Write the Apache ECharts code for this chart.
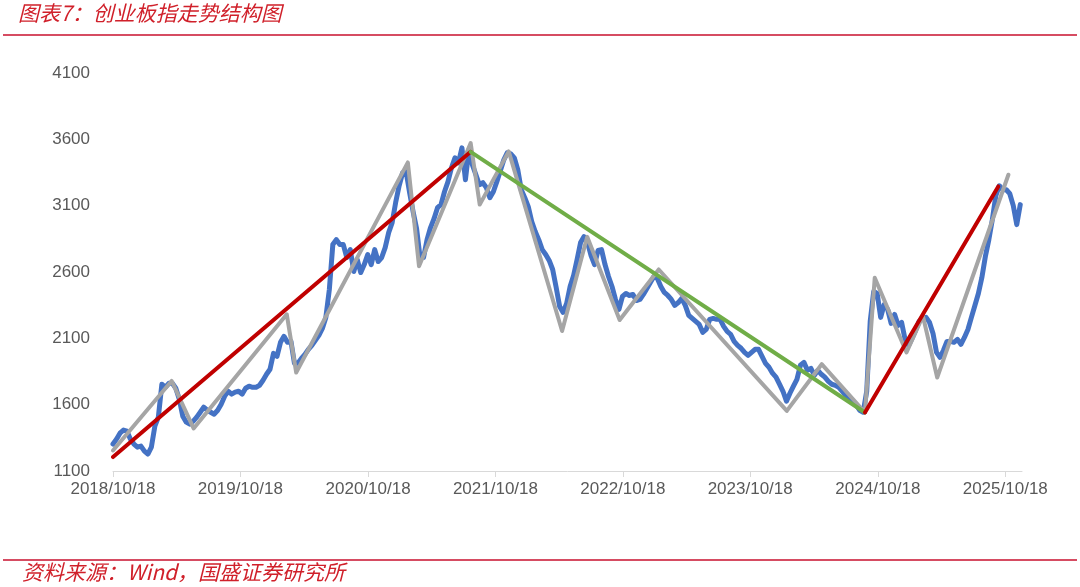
<!DOCTYPE html>
<html>
<head>
<meta charset="utf-8">
<script src="https://cdn.jsdelivr.net/npm/echarts@6/dist/echarts.min.js"></script>
<style>
html,body{margin:0;padding:0;background:#fff;}
#chart{width:1080px;height:587px;}
</style>
</head>
<body>
<div id="chart"></div>
<script>
// ---- Data ----
const TITLE = '图表7：创业板指走势结构图';
const SOURCE = '资料来源：Wind，国盛证券研究所';

// x-axis tick labels (dates)
const xTickDates = ['2018-10-18','2019-10-18','2020-10-18','2021-10-18','2022-10-18','2023-10-18','2024-10-18','2025-10-18'];
const yTickValues = [1100,1600,2100,2600,3100,3600,4100];
const xStart = '2018-10-18';
const xEnd = '2025-12-05';

// ChiNext index, sampled every 10 days starting 2018-10-18
const blueStart = '2018-10-18';
const blueStepDays = 10;
const blueValues = [
1303,1340,1385,1408,1400,1340,1303,1280,1288,1250,
1228,1280,1438,1506,1754,1731,1761,1761,1724,1641,
1513,1468,1453,1476,1506,1543,1581,1558,1543,1528,
1558,1604,1664,1701,1679,1694,1701,1679,1724,1739,
1731,1731,1746,1784,1829,1867,1987,1964,2070,2115,
2070,2077,1912,1912,1949,1979,2017,2047,2085,2122,
2175,2258,2468,2807,2844,2807,2807,2709,2769,2604,
2694,2596,2656,2732,2656,2769,2679,2709,2784,2897,
2972,3123,3250,3348,3356,3198,3055,2927,2709,2709,
2844,2935,3002,3085,3108,3205,3281,3386,3461,3423,
3536,3296,3521,3408,3333,3258,3273,3236,3160,3205,
3281,3363,3446,3499,3491,3461,3371,3220,3160,3093,
2980,2905,2844,2769,2732,2687,2619,2484,2340,2295,
2363,2491,2574,2694,2822,2867,2822,2724,2656,2762,
2769,2656,2566,2491,2393,2318,2416,2438,2423,2431,
2385,2393,2431,2476,2521,2566,2551,2491,2446,2423,
2393,2348,2370,2401,2348,2273,2250,2228,2205,2145,
2167,2243,2250,2243,2243,2190,2152,2130,2077,2047,
2025,1994,1972,1994,2017,2017,1964,1912,1882,1837,
1807,1754,1701,1626,1686,1739,1791,1897,1919,1859,
1874,1822,1859,1829,1807,1776,1754,1746,1731,1701,
1671,1649,1618,1596,1558,1543,1701,2228,2453,2438,
2258,2355,2318,2213,2280,2198,2220,2092,2047,2100,
2160,2228,2250,2258,2220,2137,1994,1957,2010,2077,
2077,2070,2092,2055,2107,2167,2258,2348,2438,2558,
2717,2844,2995,3175,3250,3220,3220,3190,3100,2957,
3108
];

// Structure (zigzag) line, grey
const grayDates = ['2018-10-18','2019-04-04','2019-06-06','2020-02-28','2020-03-26','2021-02-09','2021-03-13','2021-08-08','2021-09-03','2021-11-25','2022-04-27','2022-07-08','2022-10-09','2023-01-29','2024-01-31','2024-05-10','2024-09-11','2024-10-09','2025-01-08','2025-02-24','2025-04-06','2025-10-27'];
const grayValues = [1255,1779,1421,2281,1842,3426,2644,3572,3108,3509,2155,2865,2238,2619,1553,1905,1541,2557,1993,2268,1805,3333];

// Trend lines
const redUp1Dates = ['2018-10-18','2021-08-08'];
const redUp1Values = [1205,3506];
const greenDownDates = ['2021-08-08','2024-09-11'];
const greenDownValues = [3506,1541];
const redUp2Dates = ['2024-09-11','2025-09-28'];
const redUp2Values = [1541,3245];

// ---- Build ----
const DAY = 86400000;
const t = s => Date.parse(s);
const blueData = blueValues.map((v,i) => [t(blueStart) + i*blueStepDays*DAY, v]);
const pair = (ds, vs) => ds.map((d,i) => [t(d), vs[i]]);
const pad = n => (n<10?'0':'') + n;
const fmt = ms => { const d = new Date(ms); return d.getUTCFullYear() + '/' + pad(d.getUTCMonth()+1) + '/' + pad(d.getUTCDate()); };

const FONT = '"Liberation Sans", Arial, sans-serif';
const CJK = '"Noto Sans CJK SC", sans-serif';

const chart = echarts.init(document.getElementById('chart'), null, {renderer:'canvas'});
const lineSeries = (name, data, color, width) => ({
  name, type:'line', data, symbol:'none', showSymbol:false, smooth:false,
  lineStyle:{color, width, cap:'round', join:'round'}, silent:true, animation:false
});
chart.setOption({
  animation:false,
  backgroundColor:'#fff',
  grid:{left:113, right:58, top:73, bottom:116, containLabel:false},
  xAxis:{
    type:'value', min:t(xStart), max:t(xEnd),
    axisLine:{show:true, lineStyle:{color:'#d9d9d9', width:1}},
    axisTick:{show:true, length:6, lineStyle:{color:'#d9d9d9'}, customValues:xTickDates.map(t)},
    axisLabel:{customValues:xTickDates.map(t), formatter:fmt, color:'#595959', fontSize:17, fontFamily:FONT, margin:10},
    splitLine:{show:false}
  },
  yAxis:{
    type:'value', min:1100, max:4100,
    axisLine:{show:false}, axisTick:{show:false},
    axisLabel:{customValues:yTickValues, formatter:v => String(v), color:'#595959', fontSize:17, fontFamily:FONT, margin:23},
    splitLine:{show:false}
  },
  series:[
    lineSeries('创业板指', blueData, '#4472c4', 5),
    lineSeries('结构', pair(grayDates, grayValues), '#a5a5a5', 4),
    lineSeries('上升1', pair(redUp1Dates, redUp1Values), '#c00000', 4),
    lineSeries('下降', pair(greenDownDates, greenDownValues), '#70ad47', 4),
    lineSeries('上升2', pair(redUp2Dates, redUp2Values), '#c00000', 4)
  ],
  graphic:[
    {type:'text', left:18, top:3, style:{text:TITLE, fill:'#d0202a', font:'italic 21px ' + CJK}},
    {type:'line', shape:{x1:3, y1:35, x2:1077, y2:35}, style:{stroke:'#c8102e', lineWidth:1.5}},
    {type:'line', shape:{x1:3, y1:560, x2:1077, y2:560}, style:{stroke:'#c8102e', lineWidth:1.5}},
    {type:'text', left:22, top:562, style:{text:SOURCE, fill:'#d0202a', font:'italic 21px ' + CJK}}
  ]
});
</script>
</body>
</html>
